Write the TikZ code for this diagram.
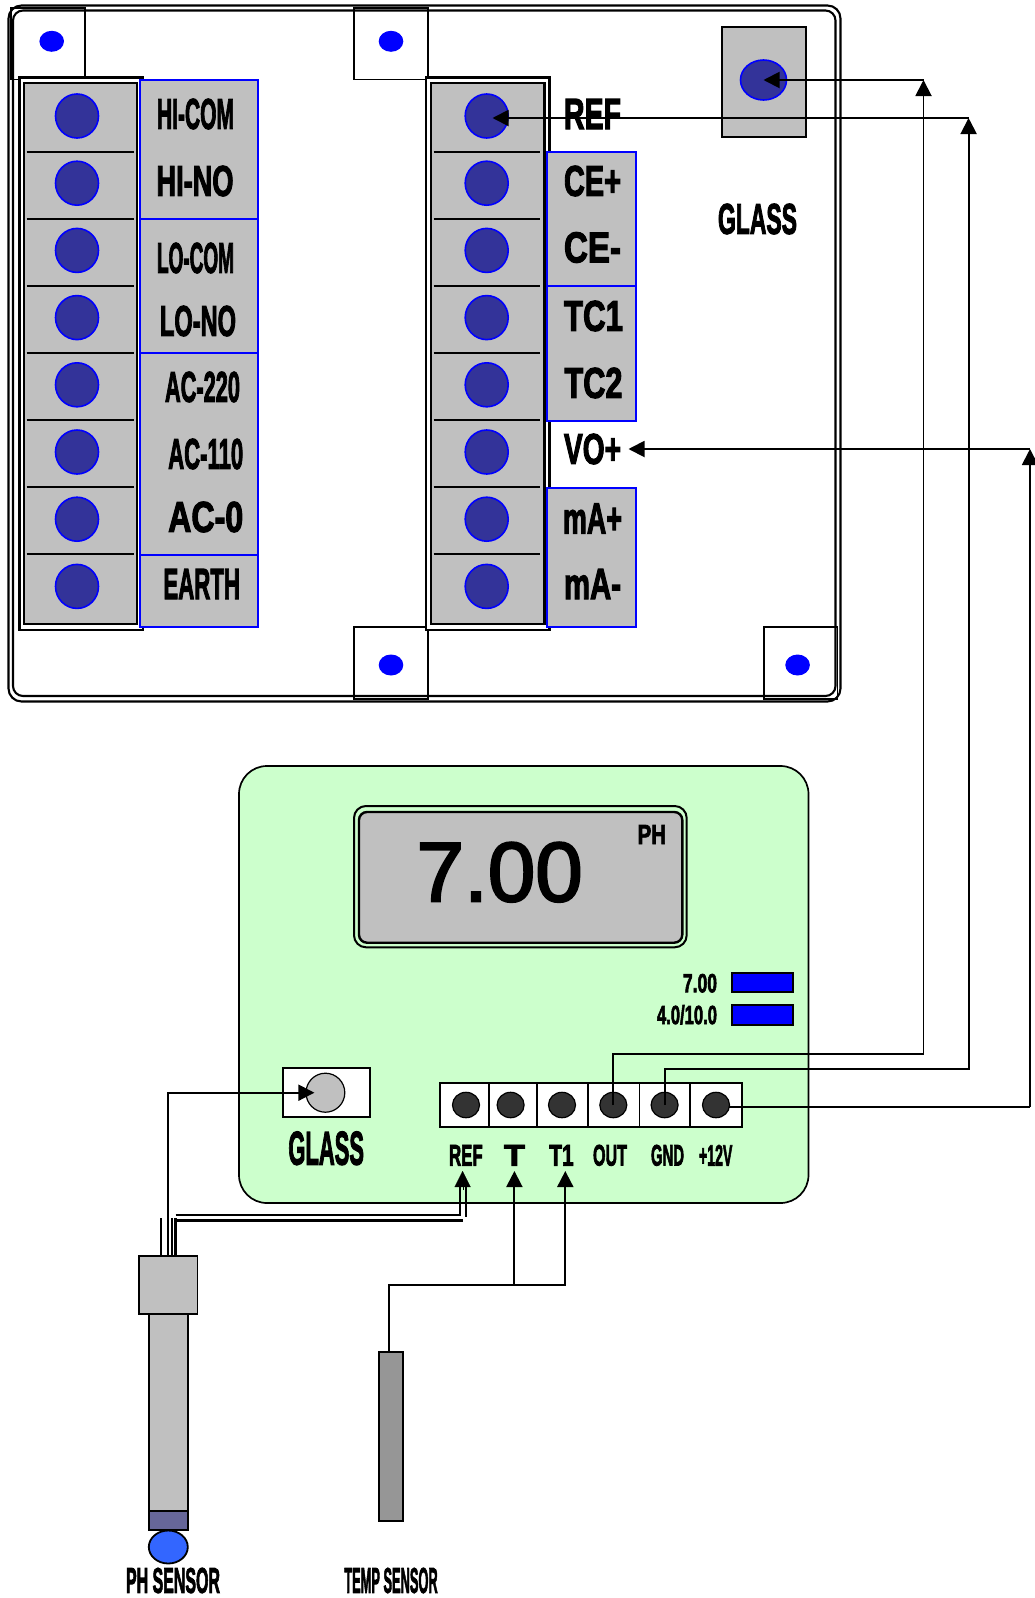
\documentclass[tikz,border=0pt]{standalone}
\usepackage{graphicx}
\usepackage{fontspec}
\setmainfont{Liberation Sans}
\newfontfamily\heavy[FakeBold=3]{Liberation Sans Bold}
\newfontfamily\semiheavy[FakeBold=2.5]{Liberation Sans}
\usetikzlibrary{shapes.geometric,arrows.meta}
\definecolor{panelgrey}{HTML}{C0C0C0}
\definecolor{screwblue}{HTML}{333399}
\definecolor{meter}{HTML}{CCFFCC}
\definecolor{collar}{HTML}{666699}
\definecolor{ballblue}{HTML}{3366FF}
\definecolor{tempgrey}{HTML}{969696}
\definecolor{jack}{HTML}{333333}
\newcommand{\rectnode}[6]{%
  \pgfmathsetmacro\rw{#5-#3}\pgfmathsetmacro\rh{#6-#4}%
  \pgfmathsetmacro\rx{(#3+#5)/2}\pgfmathsetmacro\ry{(#4+#6)/2}%
  \node[rectangle,inner sep=0pt,outer sep=0pt,minimum width=\rw pt,minimum height=\rh pt,#2] (#1) at (\rx,\ry) {};}
\newcommand{\ovalnode}[6]{%
  \pgfmathsetmacro\rw{2*#5}\pgfmathsetmacro\rh{2*#6}%
  \node[ellipse,inner sep=0pt,outer sep=0pt,minimum width=\rw pt,minimum height=\rh pt,#2] (#1) at (#3,#4) {};}
\newcommand{\lbl}[6]{\node[inner sep=0pt,outer sep=0pt] (#1) at (#2,#3) {\resizebox{#4pt}{#5pt}{\heavy #6}};}
\tikzset{
  frameline/.style={draw=black,line width=2.1pt,rounded corners=13pt},
  mountbox/.style={draw=black,line width=1.9pt},
  mounthole/.style={fill=blue},
  blockout/.style={draw=black,line width=2.4pt,fill=white},
  blockin/.style={draw=black,line width=2.6pt,fill=panelgrey},
  divider/.style={draw=black,line width=1.9pt},
  screw/.style={draw=blue,line width=1.6pt,fill=screwblue},
  tagbox/.style={draw=blue,line width=2pt,fill=panelgrey},
  wire/.style={draw=black,line width=1.9pt},
  arrowwire/.style={wire,-{Triangle[length=16pt,width=16pt]}},
  jackhole/.style={draw=black,line width=1.2pt,fill=jack},
  jackbox/.style={draw=black,line width=1.8pt,fill=white},
  probe/.style={draw=black,line width=1.9pt,fill=panelgrey},
}
\begin{document}
\begin{tikzpicture}[x=1pt,y=-1pt]
\path[use as bounding box] (0,0) rectangle (1035,1598);
% rear panel frame
\rectnode{frameA}{frameline}{8.5}{5.5}{840.5}{701.5}
\rectnode{frameB}{frameline,rounded corners=10pt}{13}{10.5}{835.5}{696}
% mounting tabs
\rectnode{tabA}{mountbox}{11}{8}{85}{79.5}
\rectnode{tabB}{mountbox}{354}{8}{428}{79.5}
\rectnode{tabC}{mountbox}{354}{627}{428}{699}
\rectnode{tabD}{mountbox}{764}{627}{837.5}{699}
\ovalnode{holeA}{mounthole}{51.7}{41.3}{12.3}{10.5}
\ovalnode{holeB}{mounthole}{391}{41.3}{12.3}{10.5}
\ovalnode{holeC}{mounthole}{391}{665}{12.3}{10.5}
\ovalnode{holeD}{mounthole}{797.6}{665}{12.3}{10.5}
% terminal blocks
\rectnode{blockLo}{blockout}{19.5}{77.5}{143}{630}
\rectnode{blockLi}{blockin}{24}{83}{137}{624}
\rectnode{blockRo}{blockout}{426}{77.5}{549.5}{630}
\rectnode{blockRi}{blockin}{431}{83}{544.7}{624}
\foreach \yy in {152,219,286,353,420,487,554}{
  \draw[divider] (26.7,\yy) -- (134,\yy);
  \draw[divider] (433.7,\yy) -- (539.6,\yy);
}
\foreach \i in {1,...,8}{
  \pgfmathsetmacro\yy{116+(\i-1)*67.2}
  \ovalnode{L\i}{screw}{77}{\yy}{21.5}{22}
  \ovalnode{R\i}{screw}{486.7}{\yy}{21.5}{22}
}
% tag boxes
\rectnode{tagA}{tagbox}{140}{80}{258}{219}
\rectnode{tagB}{tagbox}{140}{219}{258}{353}
\rectnode{tagC}{tagbox}{140}{353}{258}{555}
\rectnode{tagD}{tagbox}{140}{555}{258}{627}
\rectnode{tagE}{tagbox}{546.7}{152}{636}{286}
\rectnode{tagF}{tagbox}{546.7}{286}{636}{420.7}
\rectnode{tagG}{tagbox}{546.7}{488}{636}{627}
\lbl{tHICOM}{195.5}{114}{77}{30}{HI-COM}
\lbl{tHINO}{195}{181}{77}{30}{HI-NO}
\lbl{tLOCOM}{195.5}{258}{77}{30}{LO-COM}
\lbl{tLONO}{198}{321}{76}{30}{LO-NO}
\lbl{tACa}{202.5}{387}{75}{30}{AC-220}
\lbl{tACb}{205.7}{454}{75}{30}{AC-110}
\lbl{tACc}{205.7}{517}{75}{30}{AC-0}
\lbl{tEARTH}{201.7}{584}{76.5}{30}{EARTH}
\lbl{tREF}{592.5}{114}{57}{30}{REF}
\lbl{tCEp}{592.5}{181}{57}{30}{CE+}
\lbl{tCEm}{592.5}{247.5}{57}{30}{CE-}
\lbl{tTCa}{593.5}{316}{59}{30}{TC1}
\lbl{tTCb}{593.5}{383}{58}{30}{TC2}
\lbl{tVO}{592.5}{449}{57}{30}{VO+}
\lbl{tmAp}{592.5}{518.5}{59}{30}{mA+}
\lbl{tmAm}{592.5}{584}{57}{30}{mA-}
% glass socket on panel
\rectnode{glassBox}{draw=black,line width=1.9pt,fill=panelgrey}{722}{27}{806}{137}
\ovalnode{glassPin}{screw}{763.5}{80}{23}{20}
\lbl{tGLASSa}{757.5}{219}{79}{30}{GLASS}
% meter
\rectnode{meterBody}{draw=black,line width=1.7pt,fill=meter,rounded corners=28pt}{239}{766}{808.5}{1203}
\rectnode{dispA}{draw=black,line width=2pt,fill=meter,rounded corners=12pt}{354}{806}{686.7}{947.3}
\rectnode{dispB}{draw=black,line width=2.4pt,fill=panelgrey,rounded corners=8pt}{359}{812}{682.3}{942.7}
\node[inner sep=0pt] (reading) at (499.7,872.2) {\resizebox{166pt}{59pt}{\semiheavy 7.00}};
\lbl{tPH}{651.8}{834.5}{28.3}{19}{PH}
\lbl{tSeven}{700}{983.2}{34}{18.3}{7.00}
\lbl{tFour}{687}{1014.8}{60}{19}{4.0/10.0}
\rectnode{ledA}{draw=black,line width=1.9pt,fill=blue}{731.7}{972.7}{793.3}{992.3}
\rectnode{ledB}{draw=black,line width=1.9pt,fill=blue}{731.7}{1004.7}{793.3}{1024.7}
% glass input
\rectnode{inBox}{draw=black,line width=2pt,fill=white}{283.3}{1068.3}{370.4}{1117.3}
\ovalnode{inPin}{draw=black,line width=1.2pt,fill=panelgrey}{325.4}{1092.7}{19.4}{19.5}
\lbl{tGLASSb}{326.2}{1148.3}{75.6}{33}{GLASS}
% jack strip
\rectnode{jackStrip}{jackbox}{440}{1082.7}{742}{1126.7}
\foreach \xx in {489,536.7,588,639.4,690.3}{
  \draw[draw=black,line width=1.8pt] (\xx,1082.7) -- (\xx,1126.7);
}
\ovalnode{jREF}{jackhole}{466}{1105}{13.5}{12.7}
\ovalnode{jT}{jackhole}{510.6}{1105}{13.5}{12.7}
\ovalnode{jTa}{jackhole}{562}{1105}{13.5}{12.7}
\ovalnode{jOUT}{jackhole}{613.3}{1105}{13.5}{12.7}
\ovalnode{jGND}{jackhole}{664.6}{1105}{13.5}{12.7}
\ovalnode{jPWR}{jackhole}{716}{1105}{13.5}{12.7}
\lbl{tjREF}{465.9}{1155.3}{33.8}{20.7}{REF}
\lbl{tjT}{514.4}{1155.3}{21}{20.7}{T}
\lbl{tjTa}{561.5}{1155.3}{24.4}{20.7}{T1}
\lbl{tjOUT}{610}{1155.3}{34}{20.7}{OUT}
\lbl{tjGND}{667.5}{1155.3}{33}{20.7}{GND}
\lbl{tjPWR}{715.7}{1155.3}{33.4}{20.7}{+12V}
% pH probe
\rectnode{pBody}{probe}{149}{1314}{187.7}{1510.7}
\rectnode{pHead}{probe}{139.4}{1256}{197.5}{1314}
\rectnode{pCollar}{probe,fill=collar,line width=2.4pt}{149}{1510.7}{187.7}{1530}
\ovalnode{pBall}{draw=black,line width=1.8pt,fill=ballblue}{168.3}{1547}{19.5}{16.5}
\lbl{tPHS}{173}{1580.5}{94}{25}{PH SENSOR}
% temperature probe
\rectnode{tBody}{draw=black,line width=1.9pt,fill=tempgrey}{379.3}{1351.7}{402.7}{1520.7}
\lbl{tTMP}{391}{1580.5}{93.4}{25}{TEMP SENSOR}
% named wire corners
\coordinate (cnA) at (923.5,80);
\coordinate (cnB) at (968.6,118);
\coordinate (cnC) at (1030,449);
\coordinate (refTip) at (492.5,118);
\coordinate (voTip) at (628.5,449);
\coordinate (pinTip) at (314.4,1092.7);
\coordinate (probeLead) at (168.4,1256);
\coordinate (tapT) at (514.4,1285);
\coordinate (tipT) at (514.4,1171);
\coordinate (tipTa) at (565.3,1285);
\coordinate (tipTb) at (565.3,1171);
\coordinate (tempTop) at (389.4,1352);
\coordinate (tempCorner) at (389.4,1285);
\coordinate (tipREF) at (462.6,1171);
% wires
\draw[arrowwire] (jOUT.center) |- (923.5,1054) -- (cnA);
\draw[arrowwire] (jGND.center) |- (968.6,1069) -- (cnB);
\draw[wire] (jPWR.east) -- ++(0,2) -- (1030,1107);
\draw[arrowwire] (1030,1107) -- (cnC);
\draw[arrowwire] (cnA) -- (glassPin.center);
\draw[arrowwire] (cnB) -- (refTip);
\draw[arrowwire] (cnC) -- (voTip);
\draw[arrowwire] (probeLead) |- (pinTip);
\draw[arrowwire] (tempTop) -- (tempCorner) -- (tipTa) -- (tipTb);
\draw[arrowwire] (tapT) -- (tipT);
% shielded lead from probe to REF
\foreach \xx in {161.2,172,175.6}{
  \draw[wire,line width=2.4pt] (\xx,1218) -- (\xx,1256);
}
\draw[wire,line width=2.4pt] (175.6,1215) -- (460,1215) -- (460,1180);
\draw[wire,line width=2.4pt] (175.6,1220.5) -- (463,1220.5);
\draw[wire,line width=2.4pt] (466,1180) -- (466,1217);
\draw[arrowwire,line width=0.1pt] (462.6,1190) -- (tipREF);
\end{tikzpicture}
\end{document}
